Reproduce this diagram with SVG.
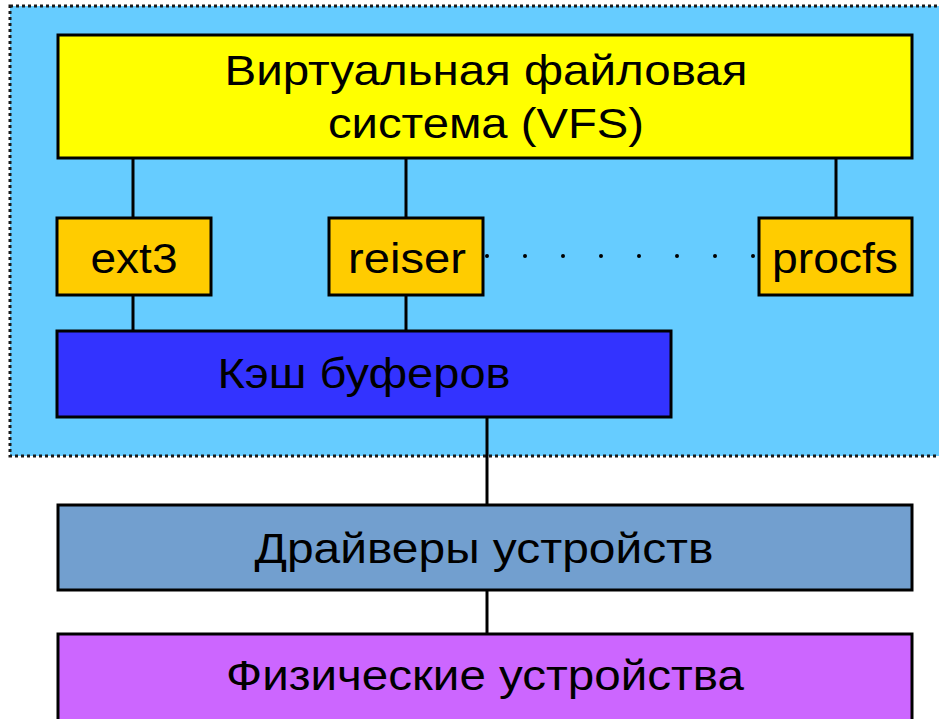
<svg xmlns="http://www.w3.org/2000/svg" width="939" height="719" viewBox="0 0 939 719">
<style>
.box{stroke:#000;stroke-width:3}
.lbl{font-family:"Liberation Sans",Arial,sans-serif;font-size:42px;fill:#000;text-anchor:middle}
.conn{stroke:#000;stroke-width:3;fill:none}
</style>
<rect width="939" height="719" fill="#fff"/>
<g id="kernel-area">
<rect x="10" y="6" width="940" height="450" fill="#66ccff" stroke="#1a1a1a" stroke-width="3" stroke-dasharray="3 3"/>
</g>
<g id="connectors">
<line class="conn" x1="133" y1="158" x2="133" y2="218"/>
<line class="conn" x1="406" y1="158" x2="406" y2="218"/>
<line class="conn" x1="836" y1="158" x2="836" y2="218"/>
<line class="conn" x1="133" y1="295" x2="133" y2="331"/>
<line class="conn" x1="406" y1="295" x2="406" y2="331"/>
<line class="conn" x1="487" y1="417" x2="487" y2="505"/>
<line class="conn" x1="487" y1="590" x2="487" y2="634"/>
<line stroke="#000" stroke-width="4" stroke-linecap="round" stroke-dasharray="0 38" x1="487" y1="256" x2="756" y2="256"/>
</g>
<g id="vfs">
<rect class="box" x="58" y="35" width="854" height="123" fill="#ffff00"/>
<text class="lbl" x="486" y="85" textLength="523" lengthAdjust="spacingAndGlyphs">Виртуальная файловая</text>
<text class="lbl" x="486" y="138" textLength="316" lengthAdjust="spacingAndGlyphs">система (VFS)</text>
</g>
<g id="ext3">
<rect class="box" x="57" y="218" width="154" height="77" fill="#ffcc00"/>
<text class="lbl" x="134" y="273" textLength="87" lengthAdjust="spacingAndGlyphs">ext3</text>
</g>
<g id="reiser">
<rect class="box" x="329" y="218" width="154" height="77" fill="#ffcc00"/>
<text class="lbl" x="407" y="273" textLength="118" lengthAdjust="spacingAndGlyphs">reiser</text>
</g>
<g id="procfs">
<rect class="box" x="759" y="218" width="153" height="77" fill="#ffcc00"/>
<text class="lbl" x="835" y="273" textLength="126" lengthAdjust="spacingAndGlyphs">procfs</text>
</g>
<g id="cache">
<rect class="box" x="57" y="331" width="614" height="86" fill="#3333ff"/>
<text class="lbl" x="364" y="388" textLength="293" lengthAdjust="spacingAndGlyphs">Кэш буферов</text>
</g>
<g id="drivers">
<rect class="box" x="58" y="505" width="854" height="85" fill="#729fcf"/>
<text class="lbl" x="484" y="563" textLength="459" lengthAdjust="spacingAndGlyphs">Драйверы устройств</text>
</g>
<g id="devices">
<rect class="box" x="58" y="634" width="854" height="100" fill="#cc66ff"/>
<text class="lbl" x="485" y="690" textLength="518" lengthAdjust="spacingAndGlyphs">Физические устройства</text>
</g>
</svg>
